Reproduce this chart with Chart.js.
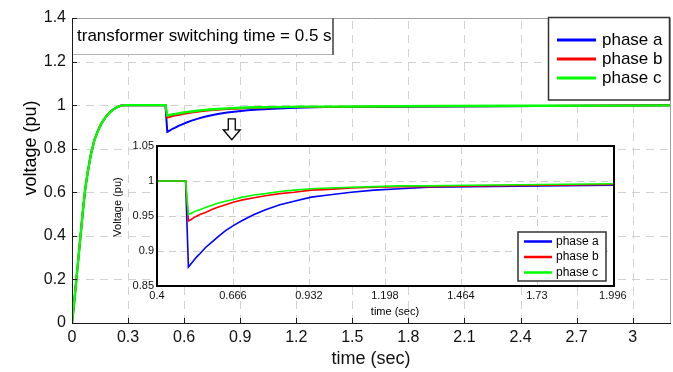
<!DOCTYPE html>
<html>
<head>
<meta charset="utf-8">
<script src="https://cdn.jsdelivr.net/npm/chart.js@4.4.1/dist/chart.umd.min.js"></script>
<style>
  html, body { margin: 0; padding: 0; background: #fff; }
  #wrap { position: relative; width: 673px; height: 372px; }
  #wrap canvas { position: absolute; left: 0; top: 0; }
</style>
</head>
<body>
<div id="wrap">
  <canvas id="mainChart" width="673" height="372"></canvas>
  <canvas id="zoomChart" width="673" height="372"></canvas>
</div>
<script>
// Simulated bus voltage (pu) of the three phases, transformer switched in at 0.5 s
const timeSec = [0, 0.01, 0.02, 0.03, 0.04, 0.05, 0.06, 0.07, 0.08, 0.09, 0.10, 0.12, 0.14, 0.16, 0.18, 0.20, 0.22, 0.24, 0.26, 0.28,
                 0.50, 0.51, 0.52, 0.53, 0.54, 0.55, 0.57, 0.59, 0.61, 0.64, 0.67, 0.70, 0.74, 0.78, 0.83, 0.88, 0.94, 1.00,
                 1.08, 1.16, 1.25, 1.35, 1.50, 1.75, 2.00, 2.50, 3.00, 3.20];
const phaseA = [0, 0.08, 0.17, 0.26, 0.35, 0.44, 0.53, 0.61, 0.67, 0.72, 0.77, 0.84, 0.885, 0.92, 0.945, 0.965, 0.98, 0.99, 0.997, 1.0,
                1.0, 0.877, 0.882, 0.887, 0.892, 0.896, 0.905, 0.912, 0.919, 0.929, 0.937, 0.944, 0.952, 0.959, 0.966, 0.971, 0.977, 0.980,
                0.984, 0.987, 0.989, 0.991, 0.992, 0.993, 0.994, 0.996, 0.998, 0.999];
const phaseB = [0, 0.08, 0.17, 0.26, 0.35, 0.44, 0.53, 0.61, 0.67, 0.72, 0.77, 0.84, 0.885, 0.92, 0.945, 0.965, 0.98, 0.99, 0.997, 1.0,
                1.0, 0.943, 0.945, 0.948, 0.950, 0.952, 0.955, 0.959, 0.962, 0.966, 0.970, 0.973, 0.976, 0.979, 0.982, 0.984, 0.987, 0.988,
                0.990, 0.991, 0.992, 0.992, 0.993, 0.994, 0.995, 0.996, 0.998, 0.999];
const phaseC = [0, 0.08, 0.17, 0.26, 0.35, 0.44, 0.53, 0.61, 0.67, 0.72, 0.77, 0.84, 0.885, 0.92, 0.945, 0.965, 0.98, 0.99, 0.997, 1.0,
                1.0, 0.952, 0.954, 0.956, 0.958, 0.959, 0.962, 0.965, 0.968, 0.971, 0.974, 0.977, 0.980, 0.982, 0.985, 0.987, 0.989, 0.990,
                0.991, 0.992, 0.993, 0.993, 0.994, 0.995, 0.996, 0.997, 0.998, 0.999];
const seriesNames = ['phase a', 'phase b', 'phase c'];

const mainXTicks = [0, 0.3, 0.6, 0.9, 1.2, 1.5, 1.8, 2.1, 2.4, 2.7, 3];
const mainYTicks = [0, 0.2, 0.4, 0.6, 0.8, 1, 1.2, 1.4];
const zoomXTicks = [0.4, 0.666, 0.932, 1.198, 1.464, 1.73, 1.996];
const zoomYTicks = [0.85, 0.9, 0.95, 1, 1.05];

const switchNote = 'transformer switching time = 0.5 s';
const mainXTitle = 'time (sec)';
const mainYTitle = 'voltage (pu)';
const zoomXTitle = 'time (sec)';
const zoomYTitle = 'Voltage (pu)';

const FONT = "'Liberation Sans', Arial, Helvetica, sans-serif";
const phaseColors = ['#0000ff', '#ff0000', '#00ff00'];

const toPoints = vals => timeSec.map((t, i) => ({ x: t, y: vals[i] }));
const fmt = v => String(+Number(v).toFixed(3));

// phase c is painted last (on top) and a touch wider, so the shared start-up curve shows green only
function makeDatasets(widths) {
  return [phaseA, phaseB, phaseC].map((vals, i) => ({
    label: seriesNames[i],
    data: toPoints(vals),
    borderColor: phaseColors[i],
    borderWidth: widths[i],
    pointRadius: 0,
    tension: 0,
    fill: false,
    order: 2 - i
  }));
}

function drawGrid(chart, xVals, yVals, color, dash) {
  const { ctx, chartArea: a, scales: { x, y } } = chart;
  ctx.save();
  ctx.strokeStyle = color;
  ctx.lineWidth = 1;
  ctx.setLineDash(dash);
  xVals.filter(v => v > x.min && v < x.max).forEach(v => {
    const px = Math.round(x.getPixelForValue(v)) + 0.5;
    ctx.beginPath(); ctx.moveTo(px, a.bottom); ctx.lineTo(px, a.top); ctx.stroke();
  });
  yVals.filter(v => v > y.min && v < y.max).forEach(v => {
    const py = Math.round(y.getPixelForValue(v)) + 0.5;
    ctx.beginPath(); ctx.moveTo(a.left, py); ctx.lineTo(a.right, py); ctx.stroke();
  });
  ctx.restore();
}

function drawLegendBox(ctx, box, datasets) {
  ctx.save();
  ctx.fillStyle = '#fff';
  ctx.fillRect(box.left, box.top, box.width, box.height);
  ctx.lineWidth = box.borderWidth;
  ctx.strokeStyle = box.borderColor;
  ctx.strokeRect(box.left, box.top, box.width, box.height);
  ctx.font = box.font;
  ctx.textBaseline = 'middle';
  ctx.textAlign = 'left';
  datasets.forEach((ds, i) => {
    const yy = box.firstRow + i * box.rowGap;
    ctx.strokeStyle = ds.borderColor;
    ctx.lineWidth = box.lineWidth;
    ctx.beginPath(); ctx.moveTo(box.lineStart, yy); ctx.lineTo(box.lineEnd, yy); ctx.stroke();
    ctx.fillStyle = '#000';
    ctx.fillText(ds.label, box.textX, yy);
  });
  ctx.restore();
}

function drawText(ctx, text, x, y, font, rotate, align) {
  ctx.save();
  ctx.translate(x, y);
  if (rotate) ctx.rotate(-Math.PI / 2);
  ctx.font = font;
  ctx.fillStyle = '#000';
  ctx.textAlign = align || 'center';
  ctx.textBaseline = 'middle';
  ctx.fillText(text, 0, 0);
  ctx.restore();
}

// Main figure: grid, axes frame, note box, legend and pointer arrow
const mainDecor = {
  id: 'mainDecor',
  beforeDatasetsDraw(chart) {
    drawGrid(chart, mainXTicks, mainYTicks, '#d2d2d2', [8, 6]);
  },
  afterDatasetsDraw(chart, args, o) {
    const { ctx, chartArea: a, scales: { x, y } } = chart;
    ctx.save();
    // frame
    ctx.lineWidth = 1;
    ctx.strokeStyle = '#a0a0a0';
    ctx.beginPath();
    ctx.moveTo(a.left, a.top + 0.5); ctx.lineTo(a.right + 0.5, a.top + 0.5); ctx.lineTo(a.right + 0.5, a.bottom);
    ctx.stroke();
    ctx.strokeStyle = '#1a1a1a';
    ctx.beginPath();
    ctx.moveTo(a.left + 0.5, a.top); ctx.lineTo(a.left + 0.5, a.bottom + 0.5); ctx.lineTo(a.right + 1, a.bottom + 0.5);
    ctx.stroke();
    // inward tick marks
    ctx.beginPath();
    mainXTicks.forEach(v => {
      const px = Math.round(x.getPixelForValue(v)) + 0.5;
      ctx.moveTo(px, a.bottom); ctx.lineTo(px, a.bottom - 5);
    });
    mainYTicks.forEach(v => {
      const py = Math.round(y.getPixelForValue(v)) + 0.5;
      ctx.moveTo(a.left, py); ctx.lineTo(a.left + 5, py);
    });
    ctx.stroke();

    // note box in the upper-left corner
    const nb = o.noteBox;
    ctx.fillStyle = '#fff';
    ctx.fillRect(a.left + 1, a.top + 1, nb.right - a.left - 1, nb.bottom - a.top - 1);
    ctx.strokeStyle = '#b4b4b4';
    ctx.lineWidth = 1;
    ctx.beginPath(); ctx.moveTo(a.left + 1, nb.bottom + 0.5); ctx.lineTo(nb.right, nb.bottom + 0.5); ctx.stroke();
    ctx.strokeStyle = '#6e6e6e';
    ctx.lineWidth = 2;
    ctx.beginPath(); ctx.moveTo(nb.right, a.top); ctx.lineTo(nb.right, nb.bottom + 1); ctx.stroke();
    ctx.restore();
    drawText(ctx, switchNote, nb.textX, nb.textY, '17px ' + FONT, false, 'left');

    drawLegendBox(ctx, o.legendBox, chart.data.datasets);

    // hollow arrow pointing down to the zoomed view
    const ar = o.arrow;
    const cx = x.getPixelForValue(ar.t);
    const top = y.getPixelForValue(ar.top);
    const tip = y.getPixelForValue(ar.tip);
    const headTop = tip - ar.headLen;
    ctx.save();
    ctx.beginPath();
    ctx.moveTo(cx - ar.stem, top); ctx.lineTo(cx + ar.stem, top); ctx.lineTo(cx + ar.stem, headTop);
    ctx.lineTo(cx + ar.head, headTop); ctx.lineTo(cx, tip); ctx.lineTo(cx - ar.head, headTop);
    ctx.lineTo(cx - ar.stem, headTop); ctx.closePath();
    ctx.fillStyle = '#fff'; ctx.fill();
    ctx.strokeStyle = '#000'; ctx.lineWidth = 1.3; ctx.stroke();
    ctx.restore();

    drawText(ctx, mainYTitle, o.yTitle.x, o.yTitle.y, '18px ' + FONT, true);
  }
};

// Zoomed view: white plotting area, grid, black frame, legend and captions
const zoomDecor = {
  id: 'zoomDecor',
  beforeDatasetsDraw(chart) {
    const { ctx, chartArea: a } = chart;
    ctx.save();
    ctx.fillStyle = '#fff';
    ctx.fillRect(a.left, a.top, a.width, a.height);
    ctx.restore();
    drawGrid(chart, zoomXTicks, zoomYTicks, '#cdcdcd', [7, 5]);
  },
  afterDatasetsDraw(chart, args, o) {
    const { ctx, chartArea: a } = chart;
    ctx.save();
    ctx.strokeStyle = '#000';
    ctx.lineWidth = 2;
    ctx.strokeRect(a.left, a.top, a.width, a.height);
    ctx.restore();
    drawLegendBox(ctx, o.legendBox, chart.data.datasets);
    drawText(ctx, zoomYTitle, o.yTitle.x, o.yTitle.y, '11px ' + FONT, true);
    drawText(ctx, zoomXTitle, o.xTitle.x, o.xTitle.y, '11px ' + FONT, false);
  }
};

const tickFont = size => ({ family: FONT, size: size });

new Chart(document.getElementById('mainChart'), {
  type: 'line',
  data: { datasets: makeDatasets([2, 2, 2.4]) },
  plugins: [mainDecor],
  options: {
    responsive: false,
    animation: false,
    events: [],
    layout: { padding: { left: 0, top: 18, right: 3, bottom: 0 } },
    plugins: {
      legend: { display: false },
      tooltip: { enabled: false },
      mainDecor: {
        noteBox: { right: 333, bottom: 54, textX: 77, textY: 36 },
        legendBox: { left: 548.5, top: 17.5, width: 121, height: 82.5, borderWidth: 1.5, borderColor: '#333',
                     font: '17px ' + FONT, firstRow: 40, rowGap: 19, lineStart: 557, lineEnd: 596, textX: 602, lineWidth: 3 },
        arrow: { t: 0.855, top: 0.937, tip: 0.841, headLen: 10, stem: 3.5, head: 8.5 },
        yTitle: { x: 31, y: 148 }
      }
    },
    scales: {
      x: {
        type: 'linear', min: 0, max: 3.2,
        afterBuildTicks: s => { s.ticks = mainXTicks.map(v => ({ value: v })); },
        afterFit: s => { s.height = 49; },
        grid: { display: false, drawTicks: false },
        border: { display: false },
        ticks: { autoSkip: false, maxRotation: 0, padding: 5, color: '#111', font: tickFont(16), callback: fmt },
        title: { display: true, text: mainXTitle, color: '#111', font: tickFont(18), padding: { top: 0, bottom: 2 } }
      },
      y: {
        type: 'linear', min: 0, max: 1.4,
        afterBuildTicks: s => { s.ticks = mainYTicks.map(v => ({ value: v })); },
        afterFit: s => { s.width = 72; },
        grid: { display: false, drawTicks: false },
        border: { display: false },
        ticks: { autoSkip: false, padding: 6, color: '#111', font: tickFont(16), callback: fmt }
      }
    }
  }
});

new Chart(document.getElementById('zoomChart'), {
  type: 'line',
  data: { datasets: makeDatasets([1.6, 1.6, 1.6]) },
  plugins: [zoomDecor],
  options: {
    responsive: false,
    animation: false,
    events: [],
    layout: { padding: { left: 100, top: 146, right: 59, bottom: 50 } },
    plugins: {
      legend: { display: false },
      tooltip: { enabled: false },
      zoomDecor: {
        legendBox: { left: 518, top: 232, width: 88, height: 49, borderWidth: 1.5, borderColor: '#333',
                     font: '12px ' + FONT, firstRow: 241.5, rowGap: 15.5, lineStart: 524, lineEnd: 552, textX: 556, lineWidth: 2.5 },
        yTitle: { x: 118, y: 207 },
        xTitle: { x: 395, y: 312 }
      }
    },
    scales: {
      x: {
        type: 'linear', min: 0.4, max: 2.0,
        afterBuildTicks: s => { s.ticks = zoomXTicks.map(v => ({ value: v })); },
        afterFit: s => { s.height = 36; },
        grid: { display: false, drawTicks: false },
        border: { display: false },
        ticks: { autoSkip: false, maxRotation: 0, padding: 3, color: '#111', font: tickFont(11), callback: fmt }
      },
      y: {
        type: 'linear', min: 0.85, max: 1.05,
        afterBuildTicks: s => { s.ticks = zoomYTicks.map(v => ({ value: v })); },
        afterFit: s => { s.width = 57; },
        grid: { display: false, drawTicks: false },
        border: { display: false },
        ticks: { autoSkip: false, padding: 3, color: '#111', font: tickFont(11), callback: fmt }
      }
    }
  }
});
</script>
</body>
</html>
